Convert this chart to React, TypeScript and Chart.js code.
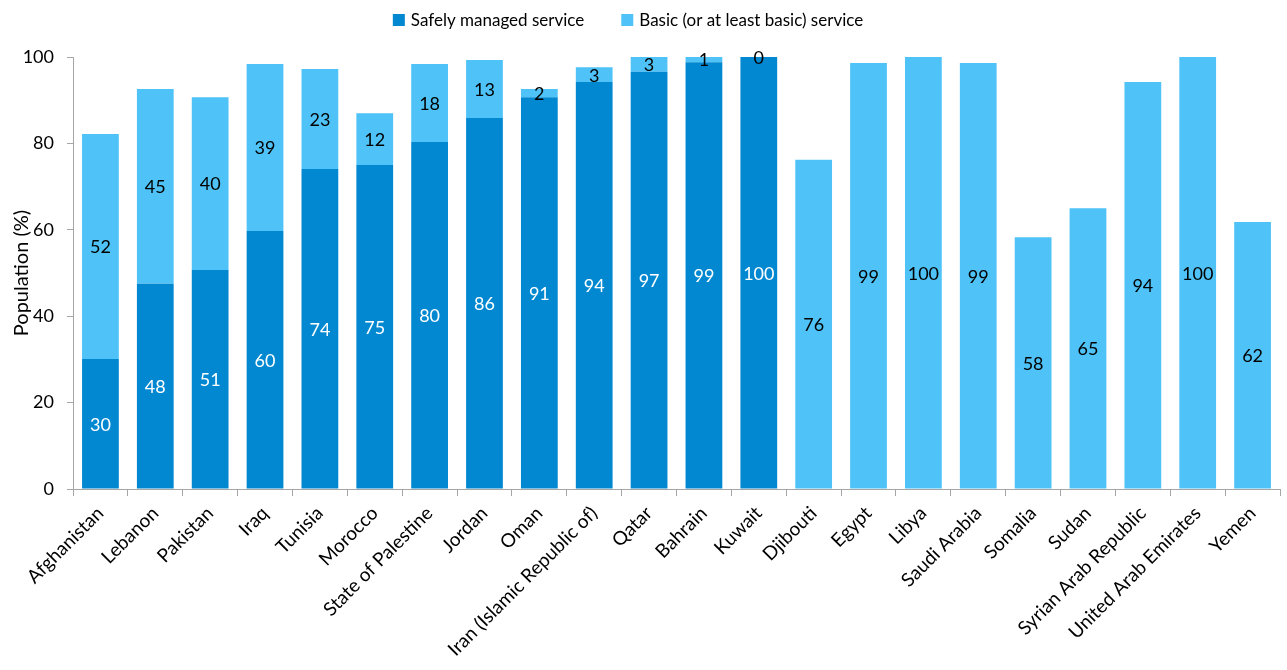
import React, { useEffect, useRef } from "react";
import { Chart, registerables } from "chart.js";

Chart.register(...registerables);

const categories = [
  "Afghanistan",
  "Lebanon",
  "Pakistan",
  "Iraq",
  "Tunisia",
  "Morocco",
  "State of Palestine",
  "Jordan",
  "Oman",
  "Iran (Islamic Republic of)",
  "Qatar",
  "Bahrain",
  "Kuwait",
  "Djibouti",
  "Egypt",
  "Libya",
  "Saudi Arabia",
  "Somalia",
  "Sudan",
  "Syrian Arab Republic",
  "United Arab Emirates",
  "Yemen",
];

const safelyManaged: (number | null)[] = [
  30.1, 47.5, 50.7, 59.7, 74.1, 75.0, 80.3, 85.9, 90.7, 94.2, 96.6, 98.8, 100,
  null, null, null, null, null, null, null, null, null,
];

const basicService: (number | null)[] = [
  52.1, 45.1, 40.0, 38.7, 23.1, 12.0, 18.1, 13.4, 1.9, 3.4, 3.4, 1.2, 0,
  76.2, 98.6, 100, 98.6, 58.3, 65.0, 94.2, 100, 61.8,
];

const seriesNames = ["Safely managed service", "Basic (or at least basic) service"];
const seriesColors = ["#0288D1", "#4FC3F7"];
const labelColors = ["#FFFFFF", "#000000"];

const FONT = "Lato, 'Open Sans', sans-serif";

const valueLabelPlugin = {
  id: "valueLabels",
  afterDatasetsDraw(chart: any) {
    const ctx = chart.ctx;
    ctx.save();
    ctx.font = `18px ${FONT}`;
    ctx.textAlign = "center";
    ctx.textBaseline = "middle";
    chart.data.datasets.forEach((ds: any, di: number) => {
      const meta = chart.getDatasetMeta(di);
      meta.data.forEach((el: any, i: number) => {
        const v = ds.data[i];
        if (v == null) return;
        const p = el.getProps(["x", "y", "base"], true);
        ctx.fillStyle = labelColors[di];
        ctx.fillText(String(Math.round(v)), p.x, (p.y + p.base) / 2 + 1);
      });
    });
    ctx.restore();
  },
};

const customLegendPlugin = {
  id: "customLegend",
  afterDraw(chart: any) {
    const ctx = chart.ctx;
    ctx.save();
    ctx.font = `17px ${FONT}`;
    ctx.textBaseline = "middle";
    ctx.textAlign = "left";
    const box = 12;
    const gapBoxText = 6;
    const gapItems = 37;
    const widths = seriesNames.map((n) => box + gapBoxText + ctx.measureText(n).width);
    const total = widths.reduce((a, b) => a + b, 0) + gapItems * (widths.length - 1);
    const center = 628;
    let x = center - total / 2;
    const y = 20;
    seriesNames.forEach((n, i) => {
      ctx.fillStyle = seriesColors[i];
      ctx.fillRect(x, y - box / 2, box, box);
      ctx.fillStyle = "#000";
      ctx.fillText(n, x + box + gapBoxText, y + 1);
      x += widths[i] + gapItems;
    });
    ctx.restore();
  },
};

export default function App() {
  const canvasRef = useRef<HTMLCanvasElement | null>(null);

  useEffect(() => {
    if (!canvasRef.current) return;
    const chart = new Chart(canvasRef.current, {
      type: "bar",
      data: {
        labels: categories,
        datasets: [
          {
            label: seriesNames[0],
            data: safelyManaged,
            backgroundColor: seriesColors[0],
            borderWidth: 0,
            categoryPercentage: 1,
            barPercentage: 0.67,
          },
          {
            label: seriesNames[1],
            data: basicService,
            backgroundColor: seriesColors[1],
            borderWidth: 0,
            categoryPercentage: 1,
            barPercentage: 0.67,
          },
        ],
      },
      options: {
        responsive: false,
        animation: false,
        layout: { padding: { top: 57, right: 7, bottom: 0, left: 0 } },
        plugins: {
          legend: { display: false },
          tooltip: { enabled: false },
        },
        scales: {
          x: {
            stacked: true,
            grid: {
              display: true,
              drawOnChartArea: false,
              offset: true,
              tickLength: 7,
              color: "#A6A6A6",
            },
            border: { color: "#A6A6A6", width: 1 },
            ticks: {
              autoSkip: false,
              maxRotation: 45,
              minRotation: 45,
              padding: 6,
              color: "#000",
              font: { family: FONT, size: 19 },
            },
            afterFit: (s: any) => {
              s.height = 181;
            },
          },
          y: {
            stacked: true,
            min: 0,
            max: 100,
            grid: {
              display: true,
              drawOnChartArea: false,
              tickLength: 6,
              color: "#A6A6A6",
            },
            border: { color: "#A6A6A6", width: 1 },
            ticks: {
              stepSize: 20,
              padding: 13,
              color: "#000",
              font: { family: FONT, size: 18 },
            },
            title: {
              display: true,
              text: "Population (%)",
              color: "#000",
              font: { family: FONT, size: 20 },
              padding: { top: 10, bottom: 4 },
            },
            afterFit: (s: any) => {
              s.width = 73;
            },
          },
        },
      },
      plugins: [valueLabelPlugin, customLegendPlugin],
    } as any);
    return () => chart.destroy();
  }, []);

  return (
    <div style={{ position: "absolute", left: 0, top: 0, width: 1287, height: 670, background: "#fff" }}>
      <canvas ref={canvasRef} width={1287} height={670} style={{ display: "block" }} />
    </div>
  );
}
